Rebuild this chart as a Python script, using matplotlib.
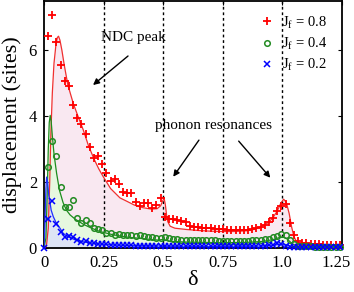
import numpy as np
import matplotlib
matplotlib.use("Agg")
import matplotlib.pyplot as plt
import matplotlib.transforms as mtransforms

plt.rcParams['font.family'] = ['Liberation Serif', 'DejaVu Serif']
plt.rcParams['mathtext.fontset'] = 'custom'
plt.rcParams['mathtext.rm'] = 'Liberation Serif'
plt.rcParams['mathtext.it'] = 'Liberation Serif:italic'

# sample grid of the simulation points (step 0.0175)
delta = np.arange(72) * 0.0175

# markers: Jf = 0.8 and 0.4 start at the 2nd grid point, Jf = 0.2 at the origin
red_pts = [6.42, 7.06, 6.23, 5.55, 5.05, 4.92, 4.33, 3.93, 3.76, 3.45,
           3.07, 2.74, 2.80, 2.54, 2.26, 2.03, 2.08, 1.94, 1.71, 1.68,
           1.68, 1.39, 1.27, 1.35, 1.37, 1.20, 1.30, 1.52, 0.95, 0.89,
           0.87, 0.85, 0.82, 0.78, 0.68, 0.65, 0.63, 0.61, 0.60, 0.60,
           0.59, 0.57, 0.57, 0.55, 0.55, 0.55, 0.55, 0.56, 0.56, 0.58,
           0.60, 0.65, 0.70, 0.80, 0.92, 1.12, 1.27, 1.33, 0.77, 0.40,
           0.20, 0.16, 0.14, 0.13, 0.12, 0.11, 0.10, 0.10, 0.09, 0.09,
           0.09]
green_pts = [2.46, 3.25, 2.80, 1.86, 1.23, 1.25, 1.45, 0.90, 0.77, 0.85,
             0.75, 0.60, 0.58, 0.55, 0.45, 0.44, 0.40, 0.42, 0.40, 0.38,
             0.40, 0.37, 0.38, 0.35, 0.33, 0.32, 0.31, 0.30, 0.33, 0.29,
             0.27, 0.26, 0.25, 0.25, 0.24, 0.24, 0.24, 0.23, 0.23, 0.23,
             0.23, 0.22, 0.22, 0.22, 0.22, 0.22, 0.22, 0.22, 0.22, 0.23,
             0.23, 0.24, 0.26, 0.28, 0.32, 0.36, 0.42, 0.38, 0.25, 0.12,
             0.07, 0.05, 0.05, 0.05, 0.04, 0.04, 0.04, 0.04, 0.04, 0.04,
             0.04]
blue_pts = [0.0, 0.89, 1.42, 0.72, 0.50, 0.33, 0.35, 0.33, 0.23, 0.17,
            0.20, 0.15, 0.14, 0.12, 0.11, 0.11, 0.10, 0.09, 0.09, 0.08,
            0.08, 0.08, 0.07, 0.07, 0.07, 0.07, 0.06, 0.06, 0.07, 0.06,
            0.06, 0.05, 0.05, 0.05, 0.05, 0.05, 0.05, 0.05, 0.05, 0.05,
            0.05, 0.05, 0.05, 0.05, 0.05, 0.05, 0.05, 0.05, 0.05, 0.05,
            0.05, 0.05, 0.06, 0.07, 0.08, 0.10, 0.14, 0.12, 0.07, 0.04,
            0.03, 0.03, 0.03, 0.03, 0.03, 0.03, 0.03, 0.03, 0.03, 0.03,
            0.03, 0.03]

# theory curves
red_x = [0.0, 0.01, 0.018, 0.024, 0.029, 0.035, 0.042, 0.05, 0.056, 0.061,
         0.067, 0.075, 0.085, 0.1, 0.123, 0.145, 0.165, 0.186, 0.21, 0.23,
         0.249, 0.28, 0.319, 0.347, 0.38, 0.417, 0.45, 0.475, 0.49, 0.5,
         0.505, 0.51, 0.515, 0.52, 0.53, 0.55, 0.6, 0.65, 0.7, 0.75,
         0.8, 0.85, 0.88, 0.91, 0.94, 0.96, 0.98, 0.995, 1.007, 1.018,
         1.03, 1.04, 1.05, 1.06, 1.08, 1.12, 1.2, 1.25]
red_y = [0.0, 0.05, 0.6, 2.0, 3.5, 4.7, 5.6, 6.15, 6.38, 6.42,
         6.3, 6.0, 5.55, 4.95, 4.38, 3.95, 3.58, 3.12, 2.7, 2.4,
         2.16, 1.8, 1.52, 1.42, 1.3, 1.22, 1.18, 1.19, 1.28, 1.45,
         1.5, 1.3, 1.0, 0.8, 0.66, 0.6, 0.56, 0.53, 0.51, 0.5,
         0.5, 0.52, 0.56, 0.64, 0.76, 0.9, 1.12, 1.36, 1.48, 1.38,
         1.05, 0.65, 0.35, 0.2, 0.12, 0.08, 0.05, 0.05]
green_x = [0.0, 0.008, 0.013, 0.018, 0.022, 0.026, 0.03, 0.035, 0.042, 0.053,
           0.065, 0.08, 0.094, 0.11, 0.13, 0.165, 0.2, 0.235, 0.29, 0.35,
           0.42, 0.48, 0.5, 0.51, 0.53, 0.6, 0.75, 0.85, 0.92, 0.96,
           0.99, 1.005, 1.02, 1.04, 1.06, 1.1, 1.25]
green_y = [0.0, 0.3, 1.5, 3.0, 3.8, 4.02, 3.85, 3.4, 2.85, 2.26,
           1.75, 1.38, 1.15, 1.0, 0.88, 0.72, 0.6, 0.5, 0.4, 0.33,
           0.28, 0.24, 0.26, 0.24, 0.2, 0.18, 0.16, 0.17, 0.2, 0.25,
           0.32, 0.33, 0.28, 0.15, 0.06, 0.03, 0.02]
blue_x = [0.0, 0.004, 0.008, 0.011, 0.015, 0.02, 0.024, 0.03, 0.039, 0.05,
          0.067, 0.08, 0.1, 0.13, 0.17, 0.22, 0.3, 0.4, 0.5, 0.7,
          0.9, 0.97, 1.0, 1.02, 1.04, 1.08, 1.25]
blue_y = [0.0, 0.8, 1.8, 2.15, 2.0, 1.6, 1.45, 1.15, 0.95, 0.78,
          0.6, 0.45, 0.34, 0.25, 0.18, 0.13, 0.09, 0.07, 0.06, 0.05,
          0.06, 0.09, 0.12, 0.1, 0.05, 0.03, 0.02]

labels = [r'$\mathrm{J_f}$ = 0.8', r'$\mathrm{J_f}$ = 0.4', r'$\mathrm{J_f}$ = 0.2']

fig = plt.figure(figsize=(3.54, 2.92), dpi=100)
ax = fig.add_axes([0.1243, 0.1507, 0.8404, 0.8473])

ax.fill_between(red_x, red_y, color='#f9e8f1', lw=0)
ax.fill_between(green_x, green_y, color='#e6f8df', lw=0)
ax.fill_between(blue_x, blue_y, color='#dde4f5', lw=0)

for v in [0.25, 0.5, 0.75, 1.0]:
    ax.axvline(v, color='black', lw=1.0, ls=(0, (2, 2)), zorder=2)

ax.plot(red_x, red_y, color='#f03030', lw=0.9, zorder=3)
ax.plot(green_x, green_y, color='#1e8c1e', lw=0.9, zorder=3)
ax.plot(blue_x, blue_y, color='#2030ff', lw=0.9, zorder=3)

ax.plot(delta[1:], red_pts, ls='none', marker='+', ms=6, mew=1.3,
        color='#ff0000', label=labels[0], zorder=4, clip_on=False)
ax.plot(delta[1:], green_pts, ls='none', marker='o', ms=4, mew=1.1,
        mfc='none', color='#228b22', label=labels[1], zorder=4, clip_on=False)
ax.plot(delta, blue_pts, ls='none', marker='x', ms=4, mew=1.1,
        color='#0000ff', label=labels[2], zorder=5, clip_on=False)

# annotations
ax.text(0.374, 6.39, 'NDC peak', fontsize=11, ha='center', va='center')
ax.annotate('', xy=(0.206, 4.94), xytext=(0.353, 5.82),
            arrowprops=dict(arrowstyle='-|>', color='black', lw=1.0,
                            mutation_scale=9, shrinkA=0, shrinkB=0))
ax.text(0.712, 3.70, 'phonon resonances', fontsize=11, ha='center', va='center')
ax.annotate('', xy=(0.543, 2.16), xytext=(0.651, 3.27),
            arrowprops=dict(arrowstyle='-|>', color='black', lw=1.0,
                            mutation_scale=9, shrinkA=0, shrinkB=0))
ax.annotate('', xy=(0.951, 2.13), xytext=(0.818, 3.24),
            arrowprops=dict(arrowstyle='-|>', color='black', lw=1.0,
                            mutation_scale=9, shrinkA=0, shrinkB=0))

ax.set_xlim(0, 1.25)
ax.set_ylim(0, 7.5)
ax.set_xticks([0, 0.25, 0.5, 0.75, 1.0, 1.25])
ax.set_xticklabels(['0', '0.25', '0.5', '0.75', '1.0', '1.25'])
ax.set_yticks([0, 2, 4, 6])
ax.tick_params(direction='in', top=True, right=True, length=3, width=0.8,
               labelsize=12, pad=5)
for s in ax.spines.values():
    s.set_linewidth(1.3)

# keep the last x tick label inside the figure
last = ax.get_xticklabels()[-1]
last.set_transform(last.get_transform() +
                   mtransforms.ScaledTranslation(-4 / 72, 0, fig.dpi_scale_trans))

ax.set_xlabel('δ', fontsize=16, labelpad=0)
ax.set_ylabel('displacement (sites)', fontsize=16, labelpad=5)

ax.legend(loc='upper right', bbox_to_anchor=(0.985, 0.985), frameon=False,
          fontsize=10.5, handlelength=1.0, handletextpad=0.5,
          labelspacing=0.35, borderaxespad=0.3)

fig.savefig('out.png', dpi=100)
